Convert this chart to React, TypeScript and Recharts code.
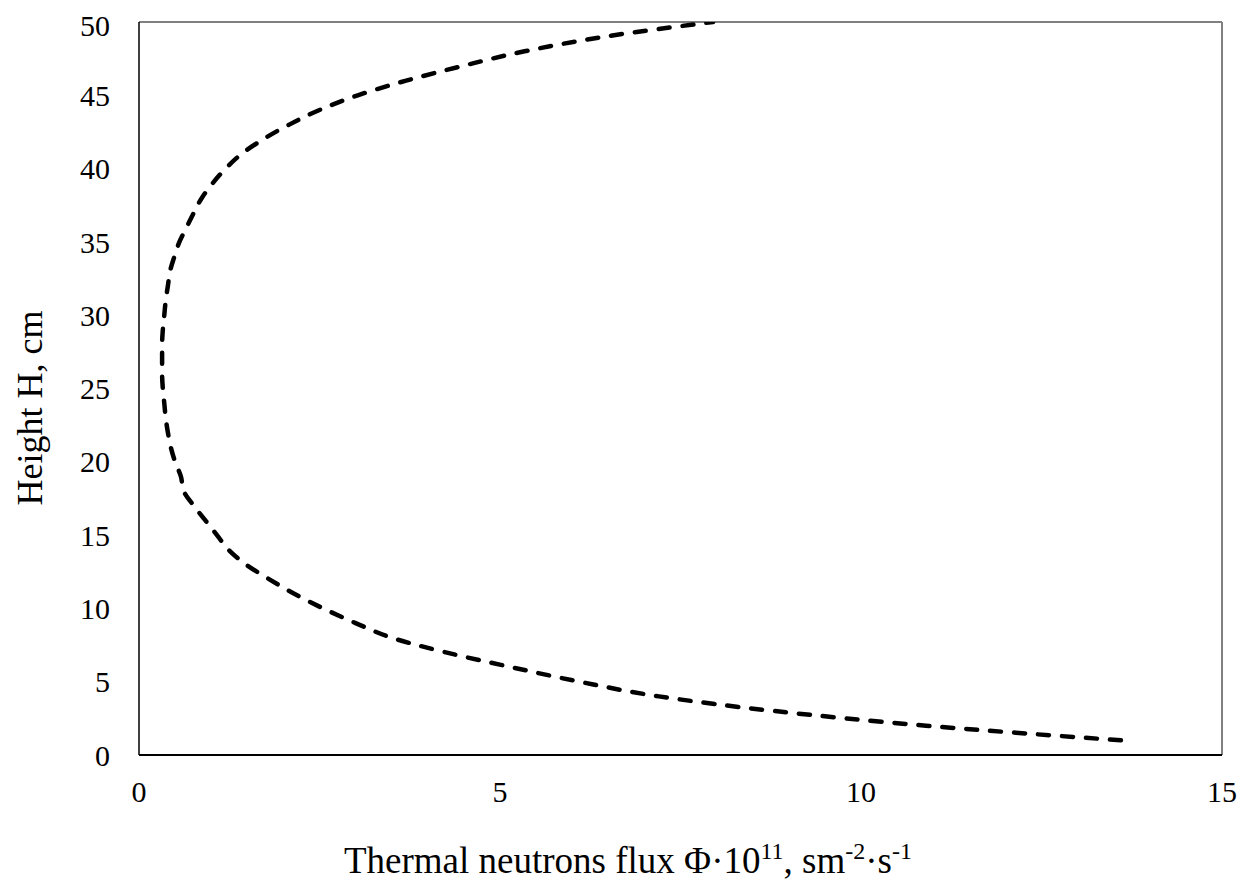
import React from 'react';
import { LineChart, Line, XAxis, YAxis, ReferenceLine } from 'recharts';

const heights = [
  1, 2, 3, 4, 5, 6, 7, 8, 9, 10,
  11, 12, 13, 14, 15, 16, 17, 18, 19, 20,
  21, 22, 23, 24, 25, 26, 27, 28, 29, 30,
  31, 32, 33, 34, 35, 36, 37, 38, 39, 40,
  41, 42, 43, 44, 45, 46, 47, 48, 49, 50,
];
const flux = [
  13.6, 10.9, 8.8, 7.2, 6.1, 5.15, 4.25, 3.5, 3.0, 2.55,
  2.15, 1.8, 1.48, 1.24, 1.08, 0.92, 0.76, 0.62, 0.58, 0.5,
  0.44, 0.4, 0.37, 0.35, 0.33, 0.32, 0.32, 0.32, 0.33, 0.35,
  0.37, 0.4, 0.43, 0.49, 0.56, 0.66, 0.76, 0.87, 1.02, 1.2,
  1.42, 1.72, 2.08, 2.5, 3.03, 3.7, 4.48, 5.34, 6.45, 7.95,
];
const xTicks = [0, 5, 10, 15];
const yTicks = [0, 5, 10, 15, 20, 25, 30, 35, 40, 45, 50];

const data = heights.map((h, i) => ({ flux: flux[i], h }));

const FONT = 'Liberation Serif, Times New Roman, serif';
const TICK_FS = 30;
const LABEL_FS = 36;
const SUP_FS = 24;

const XLabel = () => (
  <text x={620} y={865} textAnchor="middle" fontFamily={FONT} fontSize={37} fill="#000">
    <tspan>Thermal neutrons flux Φ·10</tspan>
    <tspan dy={-14} fontSize={SUP_FS}>11</tspan>
    <tspan dy={14}>, sm</tspan>
    <tspan dy={-14} fontSize={SUP_FS}>-2</tspan>
    <tspan dy={14}>·s</tspan>
    <tspan dy={-14} fontSize={SUP_FS}>-1</tspan>
  </text>
);

const YLabel = () => (
  <text
    x={22}
    y={400}
    transform="rotate(-90, 22, 400)"
    textAnchor="middle"
    dominantBaseline="central"
    fontFamily={FONT}
    fontSize={LABEL_FS}
    fill="#000"
  >
    Height H, cm
  </text>
);

export default function App() {
  return (
    <LineChart
      width={1238}
      height={873}
      data={data}
      margin={{ top: 14, right: 24, left: 0, bottom: 0 }}
    >
      <XAxis
        dataKey="flux"
        type="number"
        domain={[0, 15]}
        ticks={xTicks}
        allowDataOverflow
        height={126}
        tickLine={false}
        tickSize={0}
        tickMargin={26}
        axisLine={{ stroke: '#000', strokeWidth: 2 }}
        tick={{ fontFamily: FONT, fontSize: TICK_FS, fill: '#000' }}
        label={{ content: () => <XLabel /> }}
      />
      <YAxis
        dataKey="h"
        type="number"
        domain={[0, 50]}
        ticks={yTicks}
        allowDataOverflow
        width={131}
        tickLine={false}
        tickSize={0}
        tickMargin={29}
        axisLine={{ stroke: '#000', strokeWidth: 1.5 }}
        tick={{ fontFamily: FONT, fontSize: TICK_FS, fill: '#000' }}
        label={{ content: () => <YLabel /> }}
      />
      <ReferenceLine y={50} stroke="#808080" strokeWidth={2} />
      <ReferenceLine x={15} stroke="#808080" strokeWidth={2} />
      <Line
        dataKey="h"
        type="monotoneY"
        stroke="#000"
        strokeWidth={4.5}
        strokeDasharray="11 13"
        strokeLinecap="round"
        dot={false}
        activeDot={false}
        isAnimationActive={false}
      />
    </LineChart>
  );
}
